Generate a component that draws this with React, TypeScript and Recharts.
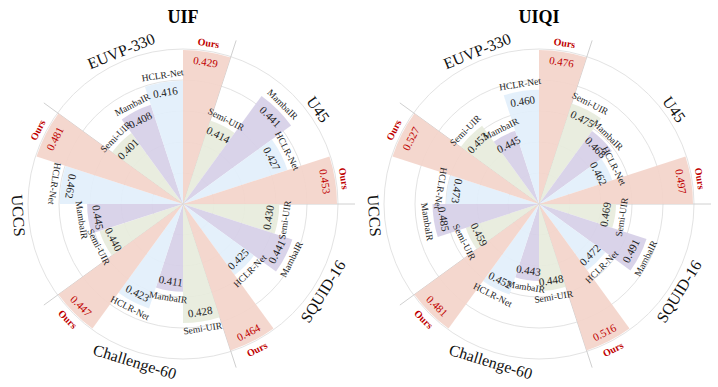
import React from 'react';
import { RadialBarChart, RadialBar, PolarGrid, PolarAngleAxis, PolarRadiusAxis, Cell, LabelList } from 'recharts';

const datasets = ['EUVP-330', 'U45', 'SQUID-16', 'Challenge-60', 'UCCS'];
const methods = ['Semi-UIR', 'MambaIR', 'HCLR-Net', 'Ours'];

// UIF scores per dataset (same order as datasets)
const uifSemi = [0.401, 0.414, 0.430, 0.428, 0.440];
const uifMamba = [0.408, 0.441, 0.441, 0.411, 0.445];
const uifHclr = [0.416, 0.427, 0.425, 0.423, 0.462];
const uifOurs = [0.429, 0.453, 0.464, 0.447, 0.481];

// UIQI scores per dataset
const uiqiSemi = [0.453, 0.475, 0.469, 0.448, 0.459];
const uiqiMamba = [0.445, 0.468, 0.491, 0.443, 0.485];
const uiqiHclr = [0.460, 0.462, 0.472, 0.452, 0.473];
const uiqiOurs = [0.476, 0.497, 0.516, 0.481, 0.527];

const COLORS: Record<string, string> = {
  'Semi-UIR': '#e7ecdc',
  'MambaIR': '#d6cfe7',
  'HCLR-Net': '#e2effb',
  'Ours': '#f3d4ca',
};

const FONT = '"Liberation Serif", "Times New Roman", serif';
const RED = '#c00000';
const R_MAX = 154;
// where the dataset names sit (degrees, counter-clockwise from 3 o'clock)
const GROUP_LABEL_ANGLES = [112, 35, -32, -107, 184];

type Row = { key: string; dataset: string; method: string; value: number; level: number };

// each dataset is scaled on its own: worst method -> floor, best -> 1
function buildRows(series: number[][], floor: number): Row[] {
  const rows: Row[] = [];
  datasets.forEach((d, i) => {
    const vals = series.map((s) => s[i]);
    const lo = Math.min(...vals);
    const hi = Math.max(...vals);
    methods.forEach((m, j) => {
      const v = series[j][i];
      rows.push({ key: `${d}|${m}`, dataset: d, method: m, value: v, level: floor + ((1 - floor) * (v - lo)) / (hi - lo) });
    });
  });
  return rows;
}

const uifRows = buildRows([uifSemi, uifMamba, uifHclr, uifOurs], 0.57);
const uiqiRows = buildRows([uiqiSemi, uiqiMamba, uiqiHclr, uiqiOurs], 0.5);

function arcText(cx: number, cy: number, r: number, angle: number, content: string, style: any, key?: string) {
  const rad = (angle * Math.PI) / 180;
  const x = cx + r * Math.cos(rad);
  const y = cy - r * Math.sin(rad);
  const a = ((((angle + 180) % 360) + 360) % 360) - 180;
  const rot = a > 0 && a < 162 ? 90 - a : -90 - a;
  return (
    <text key={key} x={x} y={y} transform={`rotate(${rot} ${x} ${y})`} textAnchor="middle" dominantBaseline="central" fontFamily={FONT} {...style}>
      {content}
    </text>
  );
}

function Rose({ title, rows, left, cx }: { title: string; rows: Row[]; left: number; cx: number }) {
  const cy = 204;
  const byKey: Record<string, Row> = {};
  rows.forEach((r) => (byKey[r.key] = r));

  const valueLabel = (p: any) => {
    const row = byKey[p.value];
    const vb = p.viewBox;
    if (!row || !vb) return null;
    const mid = (vb.startAngle + vb.endAngle) / 2;
    const ours = row.method === 'Ours';
    return arcText(vb.cx, vb.cy, vb.outerRadius - 10, mid, row.value.toFixed(3), { fontSize: 11, fill: ours ? RED : '#222' });
  };
  const nameLabel = (p: any) => {
    const row = byKey[p.value];
    const vb = p.viewBox;
    if (!row || !vb) return null;
    const mid = (vb.startAngle + vb.endAngle) / 2;
    const ours = row.method === 'Ours';
    return arcText(vb.cx, vb.cy, vb.outerRadius + (ours ? 9 : 7), mid, row.method, ours ? { fontSize: 10, fontWeight: 700, fill: RED } : { fontSize: 9.5, fill: '#222' });
  };

  const dividers = [0, 72, 144, 216, 288].map((a) => {
    const rad = (a * Math.PI) / 180;
    return <line key={a} x1={cx} y1={cy} x2={cx + 172 * Math.cos(rad)} y2={cy - 172 * Math.sin(rad)} stroke="#d0d0d0" strokeWidth={1} />;
  });
  const groupLabels = datasets.map((d, i) => arcText(cx, cy, 165, GROUP_LABEL_ANGLES[i], d, { fontSize: 16, fill: '#111' }, d));

  return (
    <div style={{ position: 'absolute', left, top: 0, width: 359, height: 387 }}>
      <RadialBarChart
        width={359}
        height={387}
        data={rows}
        cx={cx}
        cy={cy}
        innerRadius={0}
        outerRadius={R_MAX}
        startAngle={126}
        endAngle={-234}
        layout="centric"
        barCategoryGap={0}
        barGap={0}
        margin={{ top: 0, right: 0, bottom: 0, left: 0 }}
      >
        <PolarGrid gridType="circle" radialLines={false} polarAngles={[]} polarRadius={[31, 62, 93, 124, 155]} stroke="#e3e3e3" />
        <PolarAngleAxis type="category" dataKey="key" tick={false} tickLine={false} axisLine={false} />
        <PolarRadiusAxis type="number" domain={[0, 1]} tick={false} tickLine={false} axisLine={false} />
        {dividers}
        <RadialBar dataKey="level" isAnimationActive={false} fillOpacity={0.92}>
          {rows.map((r) => (
            <Cell key={r.key} fill={COLORS[r.method]} />
          ))}
          <LabelList dataKey="key" content={valueLabel} />
          <LabelList dataKey="key" content={nameLabel} />
        </RadialBar>
        {groupLabels}
        <text x={cx} y={17} textAnchor="middle" dominantBaseline="central" fontFamily={FONT} fontSize={18} fontWeight={700} fill="#000">
          {title}
        </text>
      </RadialBarChart>
    </div>
  );
}

export default function App() {
  return (
    <div style={{ position: 'absolute', left: 0, top: 0, width: 718, height: 387, background: '#fff' }}>
      <Rose title="UIF" rows={uifRows} left={0} cx={183} />
      <Rose title="UIQI" rows={uiqiRows} left={359} cx={180} />
    </div>
  );
}
